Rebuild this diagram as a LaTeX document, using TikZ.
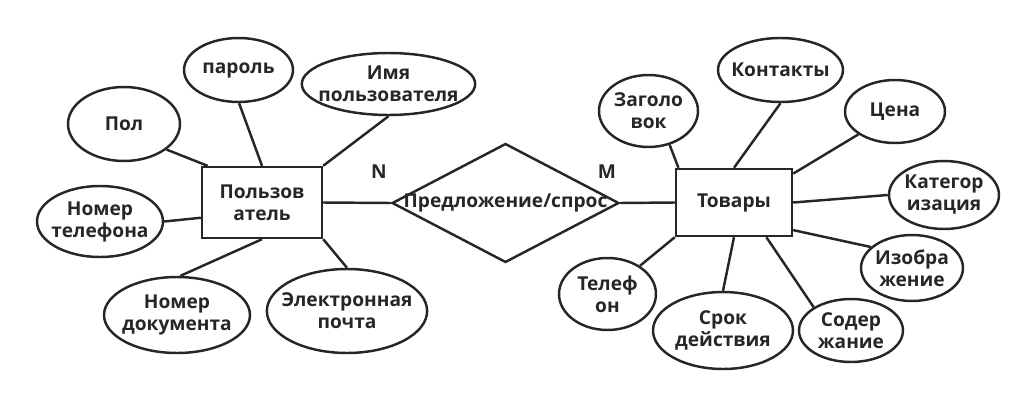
\documentclass[tikz,border=0pt]{standalone}
\usepackage{fontspec}
\setmainfont{Open Sans}
\usetikzlibrary{shapes.geometric}

\begin{document}
\begin{tikzpicture}[x=0.02cm, y=-0.02cm, line width=1.4pt, color=black!85,
  font=\fontsize{10.9}{12.5}\selectfont\bfseries,
  attr/.style={ellipse, draw, inner sep=-5pt, align=center},
  ent/.style={rectangle, draw, inner sep=0pt, align=center},
  rel/.style={diamond, draw, inner sep=-3pt, aspect=1.9}]
  \useasboundingbox (0,0) rectangle (1036,406);
  % entities and the relation between them
  \node[ent, minimum width=2.4cm, minimum height=1.42cm] (user) at (262,202.5) {Пользов\\атель};
  \node[rel, minimum width=4.54cm, minimum height=2.38cm] (offer) at (505.5,203) {Предложение/спрос};
  \node[ent, minimum width=2.32cm, minimum height=1.34cm] (goods) at (734,202.5) {Товары};
  \node (n) at (379,172) {N};
  \node (m) at (607,172) {M};
  % attributes of the user
  \node[attr, minimum width=2.24cm, minimum height=1.48cm] (sex) at (124,124) {Пол};
  \node[attr, minimum width=2.18cm, minimum height=1.28cm] (pass) at (238.5,70) {пароль};
  \node[attr, minimum width=3.26cm, minimum height=1.24cm] (uname) at (388.5,84) {Имя\\пользователя};
  \node[attr, minimum width=2.52cm, minimum height=1.42cm] (phone) at (100,221.5) {Номер\\телефона};
  \node[attr, minimum width=2.92cm, minimum height=1.52cm] (doc) at (177,315) {Номер\\документа};
  \node[attr, minimum width=3.16cm, minimum height=1.68cm] (mail) at (347,311) {Электронная\\почта};
  % attributes of the goods
  \node[attr, minimum width=1.98cm, minimum height=1.44cm] (title) at (648.5,111) {Заголо\\вок};
  \node[attr, minimum width=2.5cm, minimum height=1.28cm] (contact) at (780.5,70) {Контакты};
  \node[attr, minimum width=2.0cm, minimum height=1.26cm] (price) at (895,111.5) {Цена};
  \node[attr, minimum width=2.2cm, minimum height=1.36cm] (cat) at (944,195) {Категор\\изация};
  \node[attr, minimum width=2.04cm, minimum height=1.32cm] (img) at (912,268) {Изобра\\жение};
  \node[attr, minimum width=2.08cm, minimum height=1.26cm] (content) at (851,330.5) {Содер\\жание};
  \node[attr, minimum width=2.8cm, minimum height=1.54cm] (term) at (723,330.5) {Срок\\действия};
  \node[attr, minimum width=1.94cm, minimum height=1.44cm] (tel) at (607.5,294) {Телеф\\он};
  \foreach \a/\b in {sex.-31/user.146, pass.-89/user.north, uname.south/user.north east,
      phone.east/user.194, doc.85/user.south, mail.north/user.south east,
      user.east/offer.west, offer.east/goods.west,
      title.-58/goods.148, contact.south/goods.north, price.212/goods.26, cat.west/goods.east,
      img.153/goods.-25, content.148/goods.-47, term.north/goods.south, tel.41/goods.south west} {
    \draw (\a) -- (\b); %one line for each attribute or link
  }
\end{tikzpicture}
\end{document}
